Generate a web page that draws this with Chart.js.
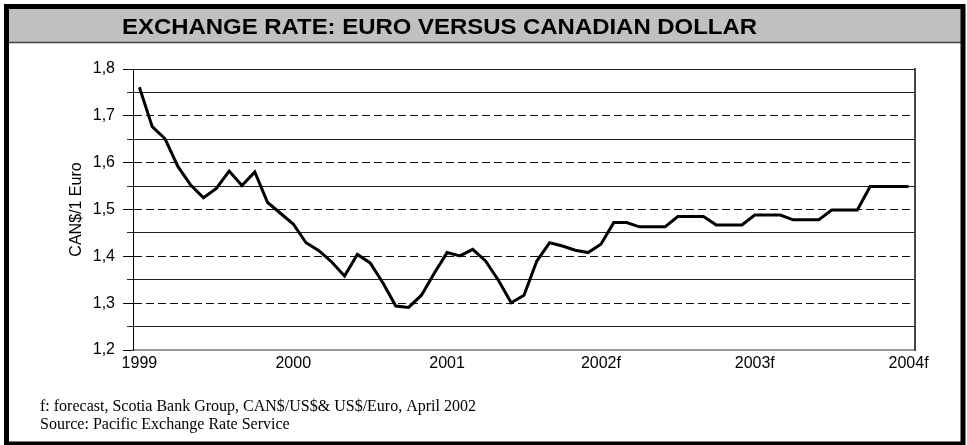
<!DOCTYPE html>
<html>
<head>
<meta charset="utf-8">
<script src="https://cdn.jsdelivr.net/npm/chart.js@4.4.0/dist/chart.umd.min.js"></script>
<style>
html, body { margin: 0; padding: 0; background: #fff; }
#wrap { width: 967px; height: 445px; }
</style>
</head>
<body>
<div id="wrap"><canvas id="myChart" width="967" height="445"></canvas></div>
<script>
// month index 0 = Jan 1999 ... 60 = Jan 2004
var yearLabels = ['1999', '2000', '2001', '2002f', '2003f', '2004f']
var yearIdx = [0, 12, 24, 36, 48, 60]
var months = []
for (var m = 0; m <= 60; m++) months.push(m)

var rates = [
    1.761, 1.677, 1.651, 1.592, 1.552, 1.525, 1.545, 1.582, 1.551, 1.580, 1.515, 1.492,
    1.469, 1.429, 1.412, 1.388, 1.358, 1.404, 1.386, 1.343, 1.294, 1.291, 1.317, 1.364,
    1.408, 1.401, 1.415, 1.390, 1.349, 1.301, 1.317, 1.390, 1.429, 1.422, 1.413, 1.408,
    1.426, 1.472, 1.472, 1.463, 1.463, 1.463, 1.485, 1.485, 1.485, 1.467, 1.467, 1.467,
    1.488, 1.488, 1.488, 1.478, 1.478, 1.478, 1.499, 1.499, 1.499, 1.549, 1.549, 1.549,
    1.549
]

var halfTicks = [1.25, 1.35, 1.45, 1.55, 1.65, 1.75, 1.8]

var chartTitle = 'EXCHANGE RATE: EURO VERSUS CANADIAN DOLLAR'
var notes = [
    'f: forecast, Scotia Bank Group, CAN$/US$& US$/Euro, April 2002',
    'Source: Pacific Exchange Rate Service'
]

var points = months.map(function (m, i) { return {x: m, y: rates[i]} })

// title band, footnotes and the outer frame
var frame = {
    id: 'frame',
    beforeDraw: function (chart) {
        var c = chart.ctx
        c.save()
        c.fillStyle = '#fff'
        c.fillRect(0, 0, chart.width, chart.height)
        c.fillStyle = '#c0c0c0'
        c.fillRect(9, 9, 952, 33)
        c.strokeStyle = '#404040'
        c.lineWidth = 1.5
        c.beginPath()
        c.moveTo(9, 42.5)
        c.lineTo(961, 42.5)
        c.stroke()

        c.font = 'bold 22px "Liberation Sans Narrow", "Liberation Sans", Arial, sans-serif'
        var w = c.measureText(chartTitle).width
        c.translate(122, 33.5)
        c.scale(635 / w, 1)
        c.fillStyle = '#000'
        c.textBaseline = 'alphabetic'
        c.fillText(chartTitle, 0, 0)
        c.restore()

        c.save()
        c.font = '16px "Liberation Serif", "Times New Roman", serif'
        c.fillStyle = '#000'
        c.textBaseline = 'alphabetic'
        c.fillText(notes[0], 40, 411)
        c.fillText(notes[1], 40, 429)
        c.restore()
    },
    afterDraw: function (chart) {
        var c = chart.ctx
        c.save()
        c.strokeStyle = '#000'
        c.lineWidth = 5
        c.strokeRect(6.5, 6.5, 956.5, 437.5)
        c.restore()
    }
}

var tickFont = {family: '"Liberation Sans", Arial, sans-serif', size: 16}

const ctx = document.getElementById('myChart')
var myChart = new Chart(ctx, {
    type: 'line',
    data: {
        datasets: [{
            data: points,
            borderColor: '#000',
            borderWidth: 3,
            pointRadius: 0,
            tension: 0,
            fill: false
        }]
    },
    options: {
        responsive: false,
        animation: false,
        layout: {padding: {left: 0, right: 52, top: 69, bottom: 0}},
        plugins: {legend: {display: false}, tooltip: {enabled: false}},
        scales: {
            x: {
                type: 'linear',
                min: -0.5,
                max: 60.5,
                afterBuildTicks: function (s) { s.ticks = yearIdx.map(function (v) { return {value: v} }) },
                afterFit: function (s) { s.height = 95 },
                grid: {display: false, drawTicks: false},
                border: {display: true, color: '#999', width: 2},
                ticks: {
                    autoSkip: false,
                    maxRotation: 0,
                    padding: 4,
                    color: '#000',
                    font: tickFont,
                    callback: function (v) { return yearLabels[yearIdx.indexOf(v)] }
                }
            },
            y: {
                position: 'left',
                weight: 1,
                min: 1.2,
                max: 1.8,
                afterFit: function (s) { s.width = 133 },
                grid: {
                    color: function (c) {
                        var v = c.tick ? c.tick.value : 0
                        return (Math.abs(v - 1.8) < 1e-6 || Math.abs(v - 1.2) < 1e-6) ? 'rgba(0,0,0,0)' : '#111'
                    },
                    tickColor: '#000',
                    tickLength: 10,
                    lineWidth: 1
                },
                border: {display: true, color: '#000', width: 1, dash: [8, 4]},
                ticks: {
                    stepSize: 0.1,
                    padding: 8,
                    color: '#000',
                    font: tickFont,
                    callback: function (v) { return v.toFixed(1).replace('.', ',') }
                },
                title: {
                    display: true,
                    text: 'CAN$/1 Euro',
                    color: '#000',
                    font: tickFont,
                    padding: {top: 67, bottom: 0}
                }
            },
            y2: {
                position: 'left',
                weight: 0,
                min: 1.2,
                max: 1.8,
                afterBuildTicks: function (s) { s.ticks = halfTicks.map(function (v) { return {value: v} }) },
                afterFit: function (s) { s.width = 0 },
                grid: {color: '#222', lineWidth: 1, drawTicks: true, tickLength: 6},
                border: {display: false},
                ticks: {display: false}
            },
            y3: {
                position: 'right',
                min: 1.2,
                max: 1.8,
                afterFit: function (s) { s.width = 0 },
                grid: {display: false},
                border: {display: true, color: '#444', width: 2},
                ticks: {display: false}
            }
        }
    },
    plugins: [frame]
})
</script>
</body>
</html>
